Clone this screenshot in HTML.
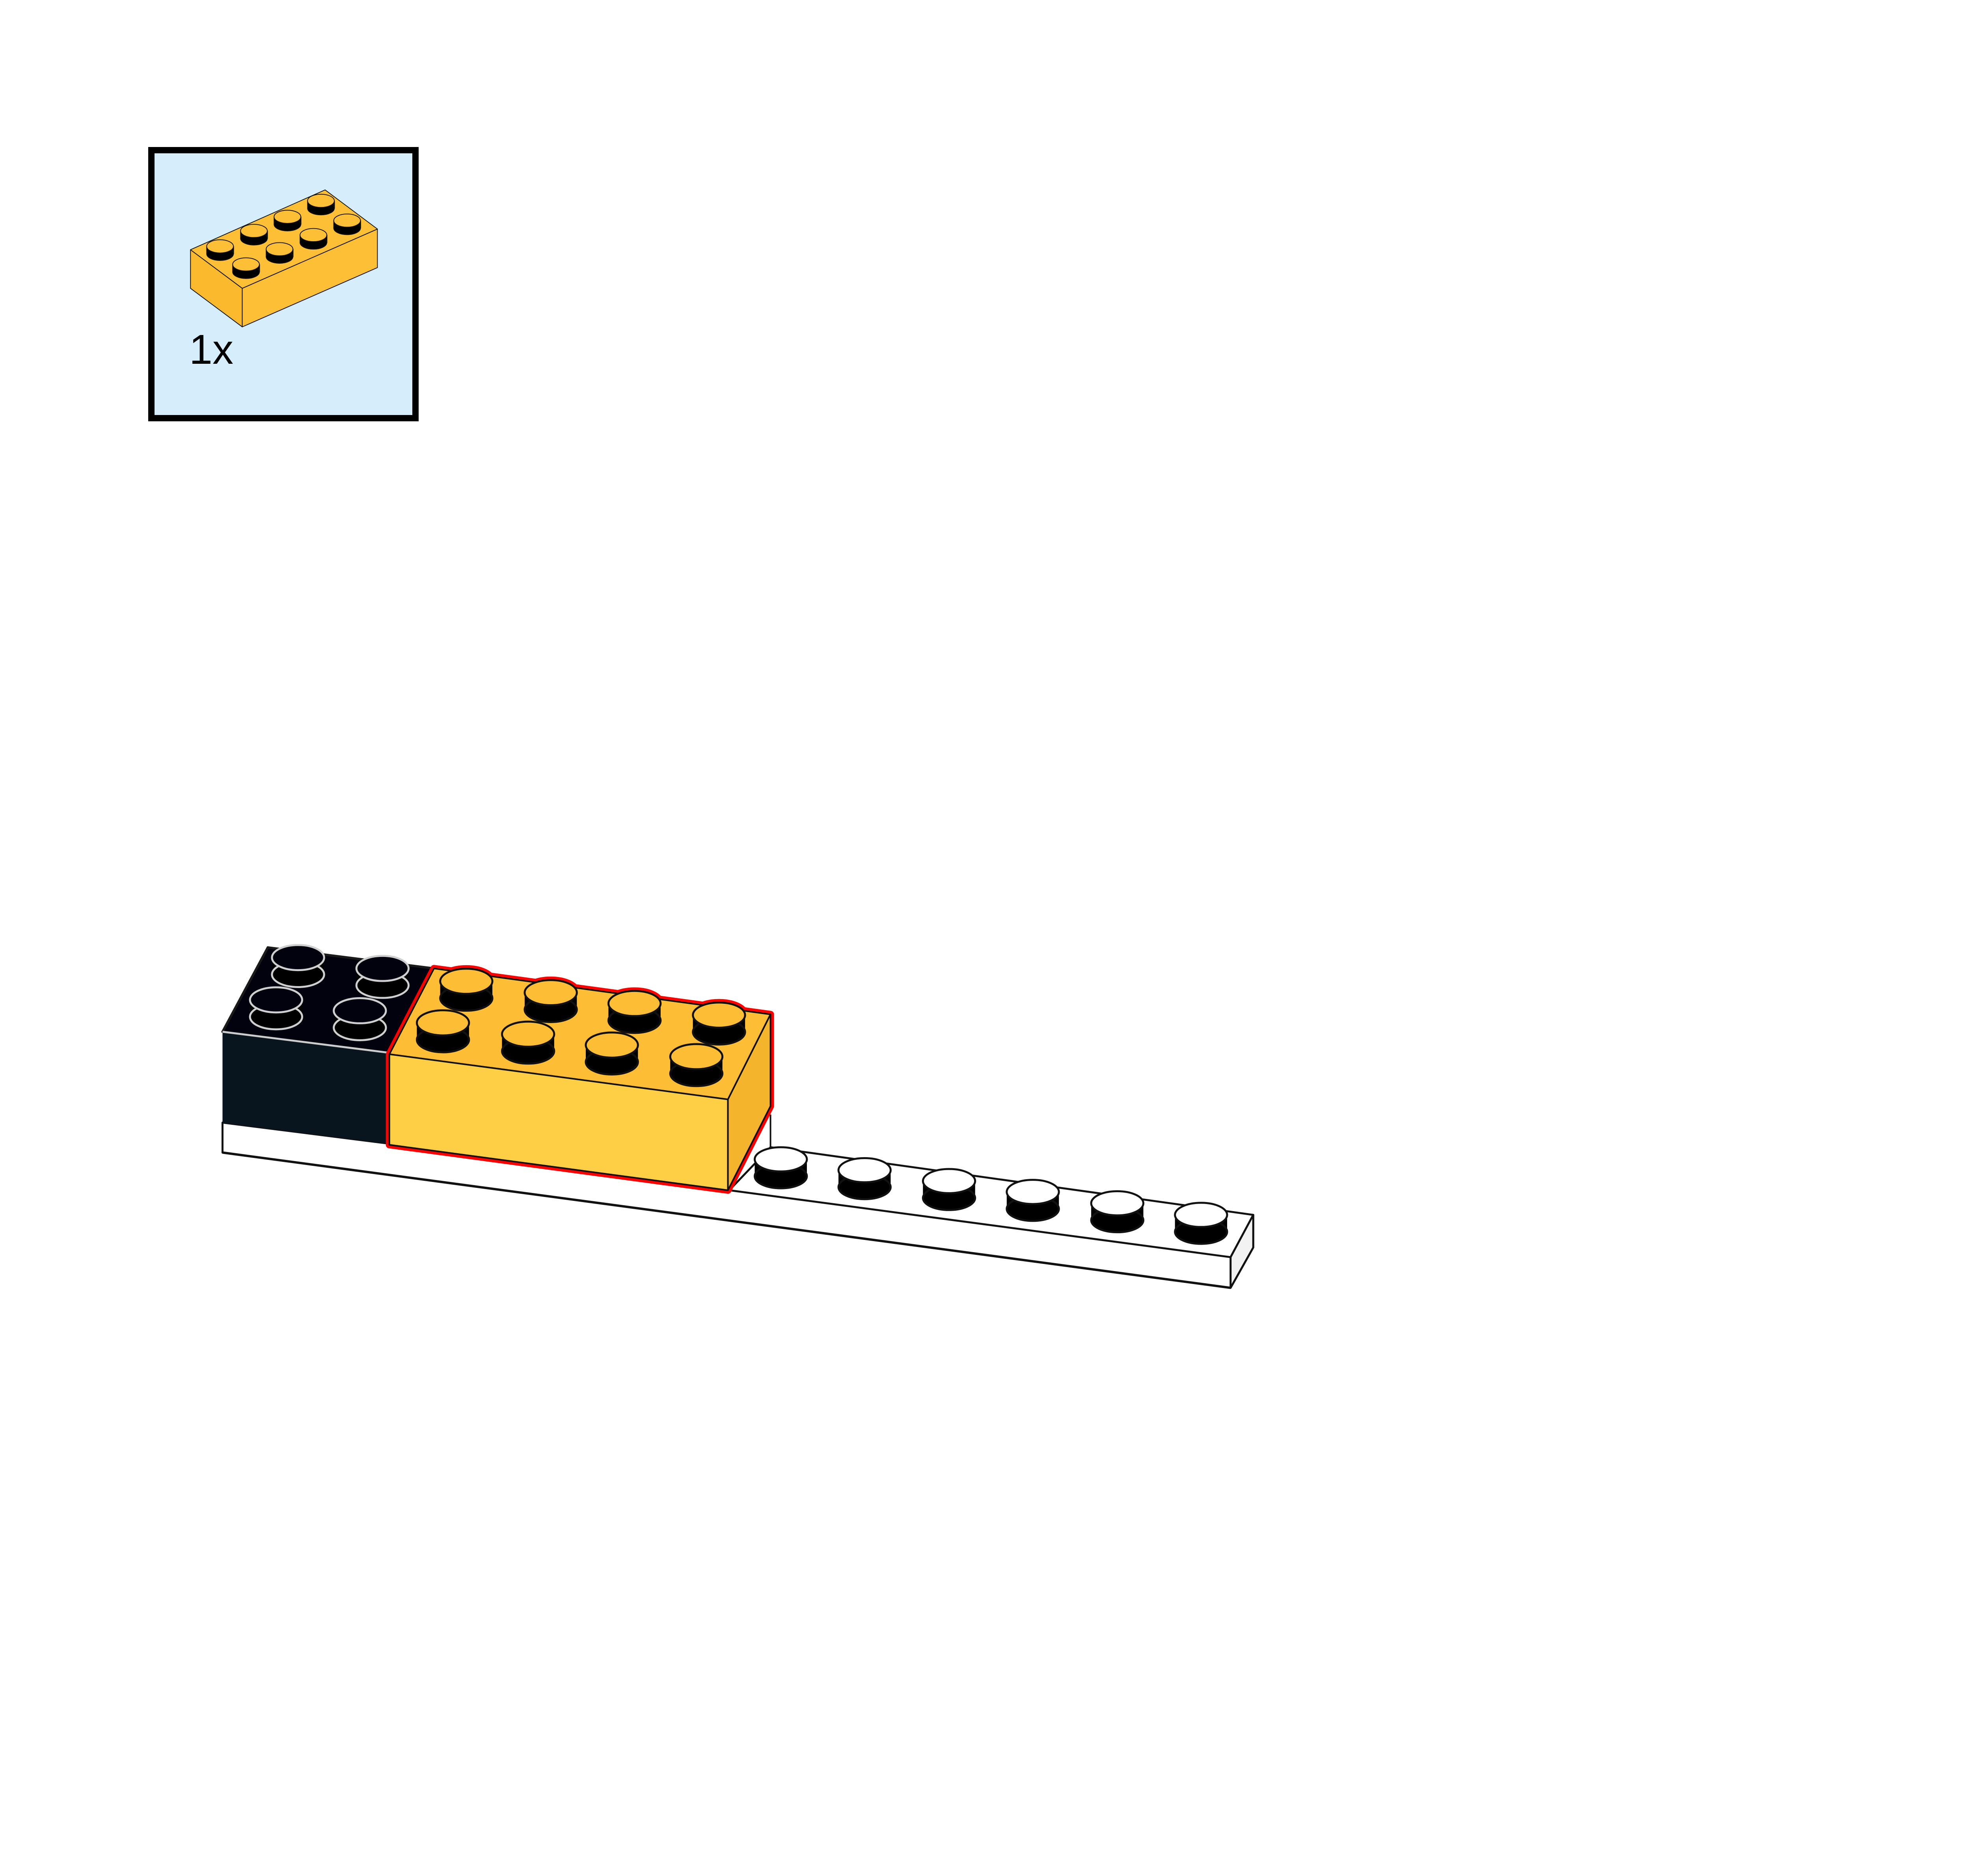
<!DOCTYPE html>
<html><head><meta charset="utf-8"><style>html,body{margin:0;padding:0;background:#fff}svg{display:block}</style></head>
<body>
<svg width="6736" height="4760" viewBox="0 0 6736 4760" xmlns="http://www.w3.org/2000/svg">
<rect x="384" y="381" width="670" height="680" fill="#d6edfc" stroke="#000" stroke-width="16"/>
<g transform="translate(340,340) scale(0.4775)" stroke="#111" stroke-width="4" vector-effect="non-scaling-stroke" stroke-linejoin="round">
  <polygon points="300,615 575,820 575,1025 300,820" fill="#fbb92e"/>
  <polygon points="575,820 1293,505 1293,710 575,1025" fill="#fcbf35"/>
  <polygon points="300,615 1015,297 1293,505 575,820" fill="#fcbf35"/>
  <g fill="#fcbf35">
    <g><rect x="922" y="355" width="143" height="40" fill="#000"/><ellipse cx="993" cy="395" rx="71" ry="35" fill="#000"/><ellipse cx="993" cy="355" rx="71" ry="35"/></g>
    <g><rect x="744" y="440" width="143" height="40" fill="#000"/><ellipse cx="815" cy="480" rx="71" ry="35" fill="#000"/><ellipse cx="815" cy="440" rx="71" ry="35"/></g>
    <g><rect x="1061" y="460" width="143" height="40" fill="#000"/><ellipse cx="1132" cy="500" rx="71" ry="35" fill="#000"/><ellipse cx="1132" cy="460" rx="71" ry="35"/></g>
    <g><rect x="566" y="515" width="143" height="40" fill="#000"/><ellipse cx="637" cy="555" rx="71" ry="35" fill="#000"/><ellipse cx="637" cy="515" rx="71" ry="35"/></g>
    <g><rect x="882" y="537" width="143" height="40" fill="#000"/><ellipse cx="953" cy="577" rx="71" ry="35" fill="#000"/><ellipse cx="953" cy="537" rx="71" ry="35"/></g>
    <g><rect x="386" y="597" width="143" height="40" fill="#000"/><ellipse cx="457" cy="637" rx="71" ry="35" fill="#000"/><ellipse cx="457" cy="597" rx="71" ry="35"/></g>
    <g><rect x="702" y="612" width="143" height="40" fill="#000"/><ellipse cx="773" cy="652" rx="71" ry="35" fill="#000"/><ellipse cx="773" cy="612" rx="71" ry="35"/></g>
    <g><rect x="524" y="693" width="143" height="40" fill="#000"/><ellipse cx="595" cy="733" rx="71" ry="35" fill="#000"/><ellipse cx="595" cy="693" rx="71" ry="35"/></g>
  </g>
</g>
<text x="480" y="923" font-family="Liberation Sans, sans-serif" font-size="106" fill="#000">1x</text>

<g transform="translate(500,2350) scale(1.742,0.613)" stroke-linejoin="round">
  <polygon points="37,813 835,1100 1538,1195 1538,1330 1505,1497 37,937" fill="#fff" stroke="#111" stroke-width="5" vector-effect="non-scaling-stroke"/>
  <polygon points="775,1093 835,915 1538,1195 1505,1370" fill="#fff" stroke="#111" stroke-width="5" vector-effect="non-scaling-stroke"/>
  <polygon points="1505,1370 1538,1195 1538,1330 1505,1497" fill="#f2f2f2" stroke="#111" stroke-width="5" vector-effect="non-scaling-stroke"/>
  <line x1="37" y1="937" x2="1505" y2="1497" stroke="#111" stroke-width="6" vector-effect="non-scaling-stroke"/>
  <line x1="835" y1="780" x2="835" y2="915" stroke="#111" stroke-width="4" vector-effect="non-scaling-stroke"/>
  <g stroke="#111" stroke-width="5">
    <g><rect x="812" y="965" width="76" height="70" fill="#000" stroke="none"/><ellipse cx="850" cy="1035" rx="38" ry="50" fill="#000" vector-effect="non-scaling-stroke"/><ellipse cx="850" cy="965" rx="38" ry="50" fill="#fff" vector-effect="non-scaling-stroke"/></g>
    <g><rect x="934" y="1010" width="76" height="70" fill="#000" stroke="none"/><ellipse cx="972" cy="1080" rx="38" ry="50" fill="#000" vector-effect="non-scaling-stroke"/><ellipse cx="972" cy="1010" rx="38" ry="50" fill="#fff" vector-effect="non-scaling-stroke"/></g>
    <g><rect x="1057" y="1055" width="76" height="70" fill="#000" stroke="none"/><ellipse cx="1095" cy="1125" rx="38" ry="50" fill="#000" vector-effect="non-scaling-stroke"/><ellipse cx="1095" cy="1055" rx="38" ry="50" fill="#fff" vector-effect="non-scaling-stroke"/></g>
    <g><rect x="1179" y="1100" width="76" height="70" fill="#000" stroke="none"/><ellipse cx="1217" cy="1170" rx="38" ry="50" fill="#000" vector-effect="non-scaling-stroke"/><ellipse cx="1217" cy="1100" rx="38" ry="50" fill="#fff" vector-effect="non-scaling-stroke"/></g>
    <g><rect x="1302" y="1147" width="76" height="70" fill="#000" stroke="none"/><ellipse cx="1340" cy="1217" rx="38" ry="50" fill="#000" vector-effect="non-scaling-stroke"/><ellipse cx="1340" cy="1147" rx="38" ry="50" fill="#fff" vector-effect="non-scaling-stroke"/></g>
    <g><rect x="1424" y="1195" width="76" height="70" fill="#000" stroke="none"/><ellipse cx="1462" cy="1265" rx="38" ry="50" fill="#000" vector-effect="non-scaling-stroke"/><ellipse cx="1462" cy="1195" rx="38" ry="50" fill="#fff" vector-effect="non-scaling-stroke"/></g>
  </g>
  <polygon points="37,437 103,88 345,175 277,525" fill="#02020e" stroke="#1a1a1a" stroke-width="6" vector-effect="non-scaling-stroke"/>
  <polygon points="37,437 277,525 277,900 37,813" fill="#08151e"/>
  <line x1="37" y1="437" x2="277" y2="523" stroke="#ccc" stroke-width="5" vector-effect="non-scaling-stroke"/>
  <g stroke="#cfcfcf" stroke-width="5">
    <g><rect x="109" y="130" width="76" height="70" fill="#000" stroke="none"/><ellipse cx="147" cy="200" rx="38" ry="52" fill="#000" vector-effect="non-scaling-stroke"/><ellipse cx="147" cy="130" rx="38" ry="52" fill="#02020e" vector-effect="non-scaling-stroke"/></g>
    <g><rect x="232" y="175" width="76" height="70" fill="#000" stroke="none"/><ellipse cx="270" cy="245" rx="38" ry="52" fill="#000" vector-effect="non-scaling-stroke"/><ellipse cx="270" cy="175" rx="38" ry="52" fill="#02020e" vector-effect="non-scaling-stroke"/></g>
    <g><rect x="77" y="305" width="76" height="70" fill="#000" stroke="none"/><ellipse cx="115" cy="375" rx="38" ry="52" fill="#000" vector-effect="non-scaling-stroke"/><ellipse cx="115" cy="305" rx="38" ry="52" fill="#02020e" vector-effect="non-scaling-stroke"/></g>
    <g><rect x="199" y="350" width="76" height="70" fill="#000" stroke="none"/><ellipse cx="237" cy="420" rx="38" ry="52" fill="#000" vector-effect="non-scaling-stroke"/><ellipse cx="237" cy="350" rx="38" ry="52" fill="#02020e" vector-effect="non-scaling-stroke"/></g>
  </g>
  <g fill="#f00" stroke="#f00" stroke-width="18">
    <polygon points="280,905 280,530 345,175 835,365 835,745 773,1093" vector-effect="non-scaling-stroke"/>
    <ellipse cx="392" cy="228" rx="38" ry="52" vector-effect="non-scaling-stroke"/>
    <ellipse cx="515" cy="275" rx="38" ry="52" vector-effect="non-scaling-stroke"/>
    <ellipse cx="637" cy="320" rx="38" ry="52" vector-effect="non-scaling-stroke"/>
    <ellipse cx="760" cy="368" rx="38" ry="52" vector-effect="non-scaling-stroke"/>
  </g>
  <polygon points="345,175 835,365 773,717 280,530" fill="#fdbd35" stroke="#111" stroke-width="4" vector-effect="non-scaling-stroke"/>
  <polygon points="280,530 773,717 773,1093 280,905" fill="#fecf45" stroke="#111" stroke-width="4" vector-effect="non-scaling-stroke"/>
  <polygon points="773,717 835,365 835,745 773,1093" fill="#f4b42c" stroke="#111" stroke-width="4" vector-effect="non-scaling-stroke"/>
  <g stroke="#111" stroke-width="5">
    <g><rect x="354" y="228" width="76" height="70" fill="#000" stroke="none"/><ellipse cx="392" cy="298" rx="38" ry="52" fill="#000" vector-effect="non-scaling-stroke"/><ellipse cx="392" cy="228" rx="38" ry="52" fill="#fdbd35" vector-effect="non-scaling-stroke"/></g>
    <g><rect x="477" y="275" width="76" height="70" fill="#000" stroke="none"/><ellipse cx="515" cy="345" rx="38" ry="52" fill="#000" vector-effect="non-scaling-stroke"/><ellipse cx="515" cy="275" rx="38" ry="52" fill="#fdbd35" vector-effect="non-scaling-stroke"/></g>
    <g><rect x="599" y="320" width="76" height="70" fill="#000" stroke="none"/><ellipse cx="637" cy="390" rx="38" ry="52" fill="#000" vector-effect="non-scaling-stroke"/><ellipse cx="637" cy="320" rx="38" ry="52" fill="#fdbd35" vector-effect="non-scaling-stroke"/></g>
    <g><rect x="722" y="368" width="76" height="70" fill="#000" stroke="none"/><ellipse cx="760" cy="438" rx="38" ry="52" fill="#000" vector-effect="non-scaling-stroke"/><ellipse cx="760" cy="368" rx="38" ry="52" fill="#fdbd35" vector-effect="non-scaling-stroke"/></g>
    <g><rect x="320" y="400" width="76" height="70" fill="#000" stroke="none"/><ellipse cx="358" cy="470" rx="38" ry="52" fill="#000" vector-effect="non-scaling-stroke"/><ellipse cx="358" cy="400" rx="38" ry="52" fill="#fdbd35" vector-effect="non-scaling-stroke"/></g>
    <g><rect x="444" y="447" width="76" height="70" fill="#000" stroke="none"/><ellipse cx="482" cy="517" rx="38" ry="52" fill="#000" vector-effect="non-scaling-stroke"/><ellipse cx="482" cy="447" rx="38" ry="52" fill="#fdbd35" vector-effect="non-scaling-stroke"/></g>
    <g><rect x="566" y="492" width="76" height="70" fill="#000" stroke="none"/><ellipse cx="604" cy="562" rx="38" ry="52" fill="#000" vector-effect="non-scaling-stroke"/><ellipse cx="604" cy="492" rx="38" ry="52" fill="#fdbd35" vector-effect="non-scaling-stroke"/></g>
    <g><rect x="689" y="540" width="76" height="70" fill="#000" stroke="none"/><ellipse cx="727" cy="610" rx="38" ry="52" fill="#000" vector-effect="non-scaling-stroke"/><ellipse cx="727" cy="540" rx="38" ry="52" fill="#fdbd35" vector-effect="non-scaling-stroke"/></g>
  </g>
</g>
</svg>
</body></html>
